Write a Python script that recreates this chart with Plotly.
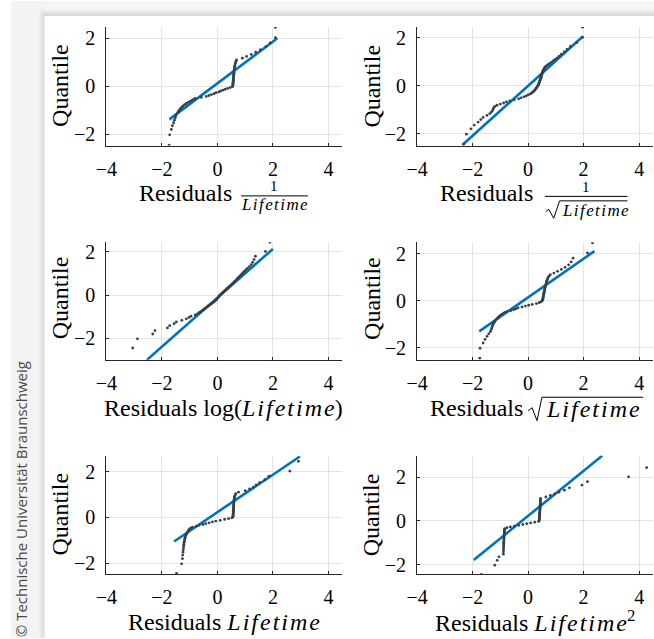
import plotly.graph_objects as go

W, H = 654, 639
SERIF = "Liberation Serif"
DOT = "#34404e"
FIT = "#0072BD"

# Theoretical normal quantiles (shared y values of every panel)
QUANTILES = [
    -2.450, -2.025, -1.802, -1.645, -1.520, -1.415, -1.323, -1.242, -1.168, -1.100,
    -1.036, -0.977, -0.921, -0.867, -0.816, -0.767, -0.720, -0.674, -0.630, -0.587,
    -0.545, -0.504, -0.464, -0.424, -0.385, -0.347, -0.309, -0.272, -0.235, -0.198,
    -0.162, -0.126, -0.090, -0.054, -0.018,
    0.018, 0.054, 0.090, 0.126, 0.162, 0.198, 0.235, 0.272, 0.309, 0.347,
    0.385, 0.424, 0.464, 0.504, 0.545, 0.587, 0.630, 0.674, 0.720, 0.767,
    0.816, 0.867, 0.921, 0.977, 1.036, 1.100, 1.168, 1.242, 1.323, 1.415,
    1.520, 1.645, 1.802, 2.025, 2.450,
]

# Sorted standardized residuals for each response transform
RESID_INV = [
    -1.74, -1.72, -1.66, -1.62, -1.58, -1.55, -1.52, -1.50, -1.47, -1.43,
    -1.40, -1.36, -1.32, -1.28, -1.24, -1.18, -1.12, -1.05, -0.98, -0.92,
    -0.86, -0.80, -0.58, -0.40, -0.30, -0.21, -0.12, -0.05, 0.05, 0.12,
    0.20, 0.28, 0.37, 0.46, 0.54,
    0.556, 0.558, 0.560, 0.563, 0.565, 0.568, 0.570, 0.573, 0.576, 0.579,
    0.582, 0.585, 0.588, 0.591, 0.594, 0.597, 0.600, 0.604, 0.608, 0.613,
    0.620, 0.630, 0.640, 0.655, 0.670, 0.690, 0.90, 1.05, 1.22, 1.38,
    1.55, 1.75, 1.90, 2.09, 2.09,
]
RESID_INV_SQRT = [
    -2.32, -2.22, -2.06, -1.94, -1.80, -1.70, -1.62, -1.48, -1.38, -1.32,
    -1.28, -1.26, -1.24, -1.20, -1.12, -1.00, -0.88, -0.78, -0.66, -0.50,
    -0.34, -0.25, -0.15, -0.07, 0.00, 0.07, 0.12, 0.16, 0.20, 0.23,
    0.25, 0.28, 0.30, 0.32, 0.34,
    0.36, 0.38, 0.39, 0.40, 0.41, 0.42, 0.43, 0.445, 0.455, 0.465,
    0.475, 0.485, 0.495, 0.505, 0.515, 0.525, 0.54, 0.56, 0.58, 0.60,
    0.64, 0.70, 0.76, 0.83, 0.90, 0.97, 1.05, 1.12, 1.20, 1.30,
    1.40, 1.53, 1.75, 1.96, 1.96,
]
RESID_LOG = [
    -3.05, -2.88, -2.33, -2.25, -1.80, -1.72, -1.56, -1.48, -1.28, -1.12,
    -1.02, -0.95, -0.80, -0.72, -0.66, -0.60, -0.55, -0.50, -0.46, -0.41,
    -0.37, -0.33, -0.29, -0.24, -0.20, -0.16, -0.12, -0.09, -0.06, -0.03,
    -0.01, 0.02, 0.04, 0.06, 0.08,
    0.11, 0.14, 0.17, 0.20, 0.23, 0.26, 0.29, 0.32, 0.35, 0.38,
    0.42, 0.45, 0.49, 0.52, 0.56, 0.59, 0.62, 0.66, 0.69, 0.72,
    0.76, 0.80, 0.84, 0.88, 0.92, 0.97, 1.02, 1.08, 1.15, 1.22,
    1.27, 1.32, 1.37, 1.73, 1.89,
]
RESID_SQRT = [
    -1.74, -1.73, -1.62, -1.55, -1.48, -1.42, -1.36, -1.33, -1.31, -1.29,
    -1.27, -1.25, -1.22, -1.19, -1.16, -1.12, -1.08, -1.04, -1.00, -0.95,
    -0.89, -0.84, -0.75, -0.62, -0.52, -0.44, -0.36, -0.22, -0.10, 0.02,
    0.15, 0.30, 0.40, 0.46, 0.50,
    0.52, 0.53, 0.535, 0.54, 0.545, 0.55, 0.555, 0.56, 0.57, 0.575,
    0.58, 0.59, 0.595, 0.60, 0.61, 0.62, 0.63, 0.64, 0.65, 0.66,
    0.67, 0.68, 0.70, 0.72, 0.75, 0.80, 0.93, 1.06, 1.20, 1.33,
    1.46, 1.55, 1.62, 2.14, 2.32,
]
RESID_LIN = [
    -1.47, -1.29, -1.26, -1.25, -1.24, -1.23, -1.22, -1.215, -1.21, -1.20,
    -1.19, -1.18, -1.17, -1.16, -1.15, -1.13, -1.11, -1.09, -1.07, -1.05,
    -1.03, -1.00, -0.96, -0.90, -0.76, -0.66, -0.52, -0.42, -0.30, -0.18,
    -0.06, 0.10, 0.26, 0.40, 0.52,
    0.560, 0.562, 0.564, 0.566, 0.568, 0.570, 0.572, 0.574, 0.576, 0.578,
    0.580, 0.582, 0.584, 0.586, 0.588, 0.590, 0.592, 0.594, 0.597, 0.600,
    0.605, 0.610, 0.620, 0.640, 0.660, 0.760, 1.00, 1.16, 1.30, 1.40,
    1.52, 1.71, 1.86, 2.61, 2.92,
]
RESID_SQ = [
    -1.68, -1.20, -1.11, -1.05, -0.890, -0.888, -0.886, -0.884, -0.882, -0.880,
    -0.878, -0.876, -0.874, -0.872, -0.870, -0.868, -0.866, -0.864, -0.862, -0.860,
    -0.858, -0.856, -0.854, -0.852, -0.850, -0.84, -0.76, -0.64, -0.50, -0.34,
    -0.19, -0.05, 0.09, 0.24, 0.38,
    0.400, 0.402, 0.404, 0.406, 0.408, 0.410, 0.412, 0.414, 0.416, 0.418,
    0.420, 0.422, 0.424, 0.426, 0.428, 0.430, 0.432, 0.434, 0.436, 0.438,
    0.440, 0.442, 0.444, 0.446, 0.450, 0.64, 0.80, 0.96, 1.11, 1.31,
    1.49, 1.94, 2.14, 3.62, 4.27,
]

# Reference lines (end points) of each normal probability plot
FIT_INV_X, FIT_INV_Y = [-1.73, 2.16], [-1.38, 2.00]
FIT_INV_SQRT_X, FIT_INV_SQRT_Y = [-2.37, 1.98], [-2.48, 2.07]
FIT_LOG_X, FIT_LOG_Y = [-2.54, 2.00], [-3.00, 2.14]
FIT_SQRT_X, FIT_SQRT_Y = [-1.76, 2.39], [-1.31, 2.10]
FIT_LIN_X, FIT_LIN_Y = [-1.56, 2.97], [-1.05, 2.66]
FIT_SQ_X, FIT_SQ_Y = [-1.96, 2.67], [-1.79, 2.99]

X_TICKS = [-4, -2, 0, 2, 4]
Y_TICKS = [-2, 0, 2]

panels = [
    (RESID_INV, FIT_INV_X, FIT_INV_Y, (-2.47, 2.47)),
    (RESID_INV_SQRT, FIT_INV_SQRT_X, FIT_INV_SQRT_Y, (-2.50, 2.46)),
    (RESID_LOG, FIT_LOG_X, FIT_LOG_Y, (-3.00, 2.45)),
    (RESID_SQRT, FIT_SQRT_X, FIT_SQRT_Y, (-2.52, 2.48)),
    (RESID_LIN, FIT_LIN_X, FIT_LIN_Y, (-2.48, 2.70)),
    (RESID_SQ, FIT_SQ_X, FIT_SQ_Y, (-2.44, 3.00)),
]

# plot-area geometry in pixels
COLS = [(97, 337), (413, 653)]
ROWS = [(26, 145), (242, 360), (456, 575)]

fig = go.Figure()
layout = {}
for i, (resid, fx, fy, yr) in enumerate(panels):
    n = i + 1
    r, c = divmod(i, 2)
    xa = "x" if n == 1 else f"x{n}"
    ya = "y" if n == 1 else f"y{n}"
    fig.add_trace(go.Scatter(x=fx, y=fy, xaxis=xa, yaxis=ya, mode="lines",
                             line=dict(color=FIT, width=2.6), showlegend=False))
    fig.add_trace(go.Scatter(x=resid, y=QUANTILES, xaxis=xa, yaxis=ya, mode="markers",
                             marker=dict(color=DOT, size=2.8), showlegend=False))
    x0, x1 = COLS[c]
    t, b = ROWS[r]
    common = dict(showgrid=True, gridcolor="#e4e4e4", gridwidth=1, zeroline=False,
                  showline=True, linecolor="#262626", linewidth=1,
                  ticks="inside", ticklen=3, tickcolor="#262626",
                  tickfont=dict(family=SERIF, size=20, color="#000"))
    layout["xaxis" if n == 1 else f"xaxis{n}"] = dict(
        domain=[x0 / W, x1 / W], range=[-4, 4.5], tickvals=X_TICKS,
        anchor=ya, ticklabelstandoff=5, **common)
    layout["yaxis" if n == 1 else f"yaxis{n}"] = dict(
        domain=[1 - b / H, 1 - t / H], range=list(yr), tickvals=Y_TICKS,
        anchor=xa, ticklabelstandoff=6, **common)

HS = "\u200a"


def mi(word):
    return "<i>" + HS.join(word) + "</i>"


def txt(s, px, py, size, angle=0, color="#000", family=SERIF):
    return dict(text=s, x=px / W, y=1 - py / H, xref="paper", yref="paper",
                showarrow=False, xanchor="center", yanchor="middle",
                textangle=angle, font=dict(family=family, size=size, color=color))


def seg(xa, ya, xb, yb, w=1.0, color="#000"):
    return dict(type="line", xref="paper", yref="paper", x0=xa / W, y0=1 - ya / H,
                x1=xb / W, y1=1 - yb / H, line=dict(color=color, width=w))


ann = []
shapes = []

# y-axis titles
for py in (85, 298, 515):
    ann.append(txt("Quantile", 50, py, 24, angle=-90))
    ann.append(txt("Quantile", 367, py, 24, angle=-90))

# x-axis titles
ann.append(txt("Residuals", 177, 193, 24))
ann.append(txt("1", 268, 186, 15))
shapes.append(seg(234, 195.5, 302, 195.5))
ann.append(txt(mi("Lifetime"), 268, 204, 17))

ann.append(txt("Residuals", 484, 193, 24))
ann.append(txt("1", 585, 187, 15))
shapes.append(seg(543, 196, 627, 196))
shapes.append(dict(type="path", xref="paper", yref="paper",
                   path=f"M {544/W},{1-211/H} L {547/W},{1-209/H} L {552/W},{1-218/H} "
                        f"L {558/W},{1-200.5/H} L {627/W},{1-200.5/H}",
                   line=dict(color="#000", width=1)))
ann.append(txt(mi("Lifetime"), 594, 210, 17))

ann.append(txt("Residuals log(" + mi("Lifetime") + ")", 216, 408, 24))

ann.append(txt("Residuals", 473, 408, 24))
shapes.append(dict(type="path", xref="paper", yref="paper",
                   path=f"M {526/W},{1-411/H} L {530/W},{1-408/H} L {535/W},{1-421/H} "
                        f"L {540/W},{1-397.5/H} L {643/W},{1-397.5/H}",
                   line=dict(color="#000", width=1)))
ann.append(txt(mi("Lifetime"), 592, 409, 24))

ann.append(txt("Residuals " + mi("Lifetime"), 217, 623, 24))
ann.append(txt("Residuals " + mi("Lifetime") + "<sup>2</sup>", 533, 622, 24))

# surrounding frame with soft shadow
shapes.append(dict(type="rect", xref="paper", yref="paper", x0=0, x1=1,
                   y0=1 - 15 / H, y1=1, fillcolor="#f5f5f5", line_width=0, layer="below"))
shapes.append(dict(type="rect", xref="paper", yref="paper", x0=0, x1=34 / W,
                   y0=0, y1=1, fillcolor="#f3f3f3", line_width=0, layer="below"))
greys = ["#efefef", "#eaeaea", "#e5e5e5", "#e0e0e0", "#dbdbdb", "#d7d7d7"]
for k, g in enumerate(greys):
    shapes.append(dict(type="rect", xref="paper", yref="paper",
                       x0=(28 + k) / W, x1=(29 + k) / W, y0=0, y1=1 - (9 + k) / H,
                       fillcolor=g, line_width=0, layer="below"))
    shapes.append(dict(type="rect", xref="paper", yref="paper",
                       x0=(28 + k) / W, x1=1, y0=1 - (10 + k) / H, y1=1 - (9 + k) / H,
                       fillcolor=g, line_width=0, layer="below"))

ann.append(txt("© Technische Universität Braunschweig", 11, 500, 15, angle=-90,
               color="#4a4a4a", family="Open Sans"))

fig.update_layout(
    width=W, height=H, autosize=False,
    margin=dict(l=0, r=0, t=0, b=0),
    paper_bgcolor="#ffffff", plot_bgcolor="#ffffff",
    annotations=ann, shapes=shapes, showlegend=False,
    **layout,
)

fig.write_html("out.html")
